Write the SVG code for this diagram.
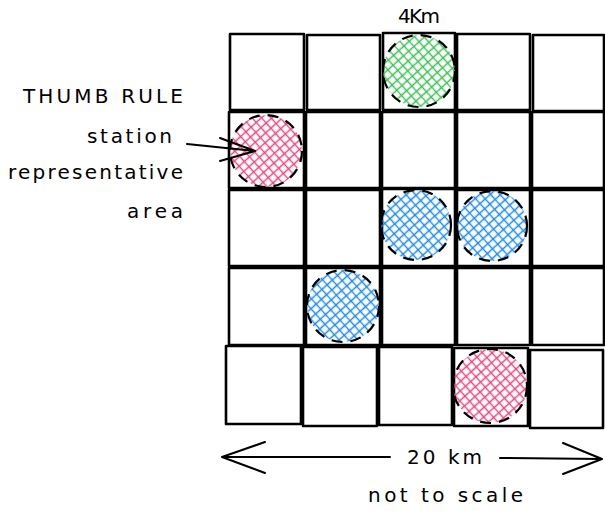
<svg xmlns="http://www.w3.org/2000/svg" width="605" height="511" viewBox="0 0 605 511">
<style>
.cell{fill:none;stroke:#000;stroke-width:2.6;stroke-linejoin:round}
.circ{stroke:#000;stroke-width:2.2;stroke-dasharray:11 8}
.lbl{font-family:"DejaVu Sans","Liberation Sans",sans-serif;font-size:20px;fill:#000}
.con{fill:none;stroke:#000;stroke-width:2;stroke-linecap:round;stroke-linejoin:round}
</style>
<defs>
<pattern id="hG" width="7" height="7" patternUnits="userSpaceOnUse" patternTransform="rotate(-42)">
<path d="M0 3.5H7M3.5 0V7" stroke="#40c057" stroke-width="1.4"/>
</pattern>
<pattern id="hB" width="7" height="7" patternUnits="userSpaceOnUse" patternTransform="rotate(-42)">
<path d="M0 3.5H7M3.5 0V7" stroke="#228be6" stroke-width="1.4"/>
</pattern>
<pattern id="hR" width="7" height="7" patternUnits="userSpaceOnUse" patternTransform="rotate(-42)">
<path d="M0 3.5H7M3.5 0V7" stroke="#e64980" stroke-width="1.4"/>
</pattern>
</defs>
<rect width="605" height="511" fill="#fff"/>
<g id="grid">
<rect class="cell" x="230" y="34" width="74" height="76"/>
<rect class="cell" x="307" y="35" width="73" height="75"/>
<rect class="cell" x="383" y="33" width="72" height="77"/>
<rect class="cell" x="457" y="34" width="73" height="76"/>
<rect class="cell" x="533" y="35" width="71" height="76"/>
<rect class="cell" x="229" y="112" width="75" height="76"/>
<rect class="cell" x="306" y="112" width="74" height="76"/>
<rect class="cell" x="382" y="112" width="73" height="76"/>
<rect class="cell" x="457" y="112" width="73" height="76"/>
<rect class="cell" x="532" y="112" width="72" height="76"/>
<rect class="cell" x="229" y="190" width="75" height="76"/>
<rect class="cell" x="306" y="190" width="74" height="76"/>
<rect class="cell" x="382" y="189" width="73" height="77"/>
<rect class="cell" x="457" y="190" width="73" height="76"/>
<rect class="cell" x="532" y="190" width="72" height="76"/>
<rect class="cell" x="229" y="268" width="75" height="77"/>
<rect class="cell" x="306" y="268" width="74" height="77"/>
<rect class="cell" x="382" y="268" width="73" height="77"/>
<rect class="cell" x="457" y="268" width="73" height="77"/>
<rect class="cell" x="532" y="268" width="72" height="77"/>
<rect class="cell" x="226" y="346" width="75" height="78"/>
<rect class="cell" x="303" y="347" width="74" height="79"/>
<rect class="cell" x="379" y="347" width="73" height="78"/>
<rect class="cell" x="454" y="348" width="74" height="78"/>
<rect class="cell" x="530" y="350" width="73" height="78"/>
</g>
<g id="green-station"><circle class="circ" cx="419" cy="71" r="36" fill="url(#hG)"/></g>
<g id="pink-station-1"><circle class="circ" cx="266" cy="151" r="36" fill="url(#hR)"/></g>
<g id="blue-station-1"><circle class="circ" cx="416" cy="225" r="35" fill="url(#hB)"/></g>
<g id="blue-station-2"><circle class="circ" cx="492" cy="226" r="35" fill="url(#hB)"/></g>
<g id="blue-station-3"><circle class="circ" cx="343" cy="306" r="36" fill="url(#hB)"/></g>
<g id="pink-station-2"><circle class="circ" cx="490" cy="386" r="37" fill="url(#hR)"/></g>
<g id="labels">
<text class="lbl" x="23" y="103" textLength="160" lengthAdjust="spacing">THUMB RULE</text>
<text class="lbl" x="87" y="143" textLength="85" lengthAdjust="spacing">station</text>
<text class="lbl" x="8" y="179" textLength="175" lengthAdjust="spacing">representative</text>
<text class="lbl" x="127" y="218" textLength="56" lengthAdjust="spacing">area</text>
<text class="lbl" x="398" y="23" textLength="42" lengthAdjust="spacing">4Km</text>
<text class="lbl" x="407" y="464" textLength="75" lengthAdjust="spacing">20 km</text>
<text class="lbl" x="368" y="502" textLength="155" lengthAdjust="spacing">not to scale</text>
</g>
<g id="connectors">
<path class="con" d="M187 144L255 151M220 138L255 151L220 161"/>
<path class="con" d="M390 457L222 457M265 442L222 457L265 473"/>
<path class="con" d="M500 458L602 459M563 443L602 459L563 474"/>
</g>
</svg>
